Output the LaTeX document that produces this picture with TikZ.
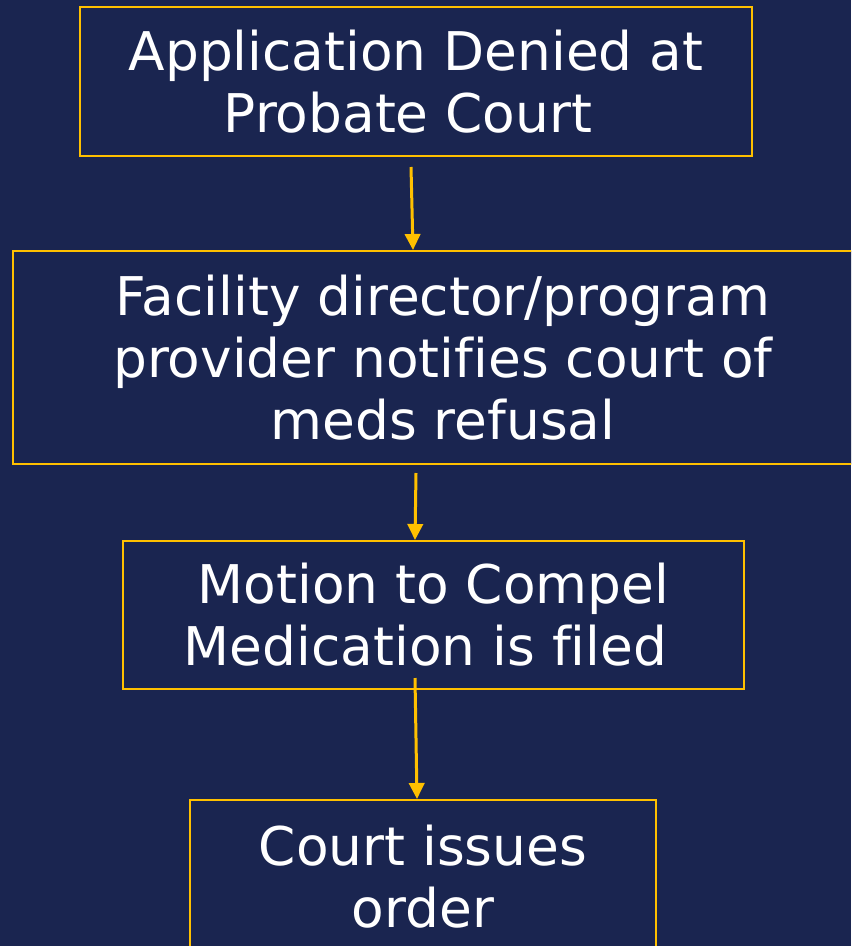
\documentclass[tikz,border=0pt]{standalone}
\usepackage{fontspec}
\setmainfont{DejaVu Sans}[Ligatures=NoCommon]
\usetikzlibrary{arrows.meta,calc}
\definecolor{bgblue}{HTML}{1A2550}
\definecolor{gold}{HTML}{FFC000}
\begin{document}
\begin{tikzpicture}[x=0.75pt,y=-0.75pt,
  box/.style={draw=gold,line width=1.5pt,fill=bgblue,text=white,align=center,
    inner sep=0pt,font=\fontsize{40pt}{46.5pt}\selectfont},
  flow/.style={draw=gold,line width=2.25pt,-{Triangle[width=11.5pt,length=12pt]}}]
\fill[bgblue] (0,0) rectangle (851,946);
\useasboundingbox (0,0) rectangle (851,946);
\begin{scope}
\clip (0,0) rectangle (851,946);
\node[box,minimum width=504pt,minimum height=111.75pt] (b1) at (416,81.5) {Application Denied at\\Probate Court\kern12pt};
\node[box,minimum width=645pt,minimum height=159.75pt] (b2) at (443,357.5) {Facility director/program\\provider notifies court of\\meds refusal};
\node[box,minimum width=465.75pt,minimum height=111pt] (b3) at (433.5,615) {Motion to Compel\\Medication is filed\kern12pt};
\node[box,minimum width=349.5pt,minimum height=115.5pt] (b4) at (423,877) {Court issues\\order};
\end{scope}
\coordinate (s1) at (411,167);
\coordinate (s2) at (416,473);
\coordinate (s3) at (415,678);
\draw[flow] (s1) -- ($(b2.north)+(-30,0)$);
\draw[flow] (s2) -- ($(b3.north)+(-18.5,0)$);
\draw[flow] (s3) -- ($(b4.north)+(-6,0)$);
\end{tikzpicture}
\end{document}
